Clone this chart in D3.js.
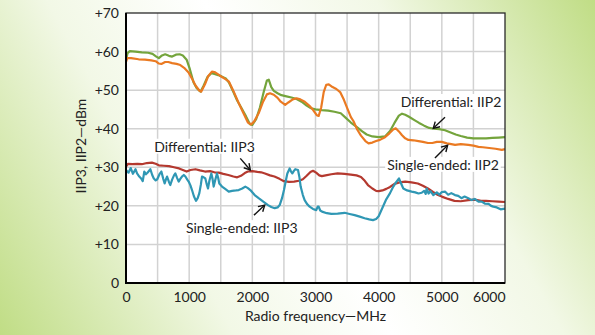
<!DOCTYPE html>
<html>
<head>
<meta charset="utf-8">
<script src="https://cdn.jsdelivr.net/npm/d3@7"></script>
<style>
  html, body { margin: 0; padding: 0; }
  body { width: 595px; height: 335px; overflow: hidden; }
  text { font-family: Lato, "Noto Sans", sans-serif; fill: #222; }
</style>
</head>
<body>
<div id="chart"></div>
<script>
// values: [MHz, dBm]
const diffIIP2 = [[0,57.8],[25,59.6],[60,60.1],[150,60.0],[250,59.8],[350,59.7],[420,59.4],[480,58.7],[520,58.3],[570,59.0],[620,59.3],[680,58.9],[730,58.7],[790,59.2],[850,59.3],[900,59.0],[960,57.9],[1010,55.5],[1070,52.0],[1120,50.5],[1180,49.6],[1230,51.2],[1290,53.4],[1350,54.4],[1400,54.2],[1460,53.9],[1520,53.5],[1580,53.0],[1630,52.0],[1700,49.5],[1760,47.3],[1830,45.3],[1900,43.2],[1960,41.2],[2000,41.0],[2060,42.5],[2120,45.5],[2180,49.5],[2230,52.5],[2260,52.7],[2300,50.8],[2340,49.8],[2400,49.2],[2460,48.7],[2540,48.4],[2620,48.1],[2700,47.7],[2780,47.0],[2860,46.0],[2930,45.3],[3000,45.0],[3100,44.8],[3200,44.7],[3300,44.4],[3400,44.0],[3480,42.8],[3560,41.6],[3650,40.5],[3740,39.3],[3810,38.5],[3900,38.0],[4000,37.8],[4100,38.0],[4180,39.4],[4250,41.5],[4320,43.4],[4370,43.9],[4420,43.6],[4480,43.1],[4560,42.3],[4640,41.5],[4720,40.8],[4800,40.2],[4880,40.0],[4960,39.9],[5050,39.6],[5130,39.1],[5220,38.5],[5300,38.1],[5400,37.7],[5500,37.5],[5600,37.5],[5700,37.5],[5800,37.6],[5900,37.7],[6000,37.8]];

const seIIP2 = [[0,57.3],[20,58.3],[80,58.3],[200,58.0],[300,57.9],[400,57.7],[470,57.5],[520,56.9],[560,56.8],[620,57.3],[670,57.3],[730,57.0],[800,56.8],[860,56.5],[920,55.8],[990,54.6],[1050,52.8],[1100,51.2],[1160,49.9],[1190,49.6],[1250,51.5],[1300,53.6],[1360,54.8],[1400,54.7],[1460,54.1],[1520,53.4],[1580,52.8],[1630,52.2],[1700,49.8],[1780,46.8],[1860,44.0],[1930,41.6],[1980,41.1],[2030,41.9],[2100,44.0],[2170,47.0],[2230,48.9],[2280,49.2],[2340,48.8],[2400,48.0],[2450,47.0],[2520,46.2],[2570,46.8],[2640,47.6],[2700,47.9],[2760,47.6],[2830,47.0],[2900,46.0],[2960,44.9],[3020,43.5],[3050,43.3],[3090,45.5],[3130,49.5],[3170,51.4],[3210,51.5],[3270,50.8],[3330,50.3],[3390,49.5],[3450,47.5],[3510,45.0],[3560,43.0],[3600,42.0],[3660,39.8],[3720,38.2],[3790,36.8],[3840,36.2],[3900,36.4],[3960,36.8],[4020,37.1],[4100,37.8],[4170,38.8],[4230,39.8],[4270,40.1],[4320,39.3],[4370,38.3],[4420,37.5],[4470,37.1],[4550,37.0],[4630,36.8],[4700,36.6],[4780,36.3],[4850,36.3],[4920,36.6],[5000,36.6],[5080,36.2],[5150,36.0],[5210,35.8],[5300,36.0],[5420,35.8],[5500,35.6],[5580,35.3],[5650,35.2],[5750,35.0],[5850,34.8],[5950,34.5],[6000,34.7]];

const diffIIP3 = [[0,30.2],[30,30.9],[100,30.8],[180,30.9],[250,30.8],[330,31.1],[410,31.2],[470,30.9],[520,30.5],[600,30.4],[680,30.3],[760,30.0],[840,29.7],[900,29.3],[960,28.9],[1020,29.3],[1100,29.5],[1170,29.2],[1250,28.9],[1330,29.0],[1400,28.7],[1470,28.6],[1540,28.3],[1620,28.0],[1700,27.6],[1760,27.4],[1820,27.8],[1880,28.5],[1930,28.9],[2000,29.0],[2080,28.8],[2140,28.7],[2200,28.4],[2280,27.9],[2350,27.6],[2430,27.0],[2500,26.4],[2580,26.2],[2660,26.3],[2740,26.5],[2800,26.9],[2860,27.8],[2920,28.8],[2960,29.1],[3010,28.6],[3060,27.9],[3100,27.7],[3160,27.9],[3250,28.2],[3350,28.4],[3460,28.3],[3560,28.1],[3650,27.9],[3720,27.5],[3780,26.5],[3830,25.4],[3900,24.5],[3960,23.9],[4000,23.8],[4060,24.0],[4120,24.4],[4180,24.9],[4250,25.7],[4330,26.1],[4420,26.3],[4520,26.1],[4620,25.8],[4700,25.2],[4780,24.5],[4860,23.6],[4940,22.8],[5000,22.4],[5100,21.8],[5200,21.3],[5300,21.2],[5420,21.5],[5520,21.6],[5620,21.3],[5700,21.3],[5800,21.2],[5900,21.1],[6000,21.0]];

const seIIP3 = [[0,29.3],[40,28.6],[75,29.8],[110,28.3],[150,29.5],[175,28.4],[210,27.6],[240,27.1],[265,26.4],[290,28.9],[315,28.2],[340,28.6],[385,29.5],[415,28.0],[440,27.1],[470,26.6],[495,26.9],[530,28.2],[560,28.9],[590,27.0],[612,25.8],[635,27.0],[650,27.6],[680,26.2],[702,25.4],[730,26.8],[760,27.9],[781,28.4],[810,27.2],[834,26.3],[860,27.0],[886,27.6],[915,28.0],[940,27.6],[970,26.8],[992,26.3],[1020,25.3],[1045,24.1],[1075,22.5],[1108,21.3],[1135,22.0],[1161,23.3],[1185,25.5],[1203,27.6],[1230,27.4],[1256,27.1],[1280,25.5],[1298,24.5],[1320,26.5],[1351,28.4],[1370,27.0],[1388,25.0],[1410,26.5],[1440,28.4],[1460,27.2],[1477,25.8],[1520,25.0],[1570,24.4],[1626,23.7],[1680,23.9],[1740,24.0],[1784,24.1],[1840,24.5],[1889,25.0],[1930,24.6],[1968,24.1],[2037,22.8],[2100,22.0],[2142,21.5],[2200,20.8],[2248,20.2],[2300,19.7],[2354,19.4],[2400,19.6],[2433,20.2],[2470,22.0],[2501,24.1],[2530,26.5],[2554,28.4],[2591,29.7],[2615,28.8],[2633,28.4],[2655,29.0],[2680,29.5],[2723,29.3],[2745,27.5],[2765,25.0],[2800,22.8],[2828,21.5],[2870,20.4],[2907,19.8],[2960,19.2],[3012,18.9],[3035,19.8],[3050,19.8],[3075,18.8],[3103,18.5],[3180,18.1],[3250,17.9],[3350,18.0],[3462,18.2],[3540,17.9],[3620,17.6],[3700,17.2],[3778,16.8],[3850,16.5],[3910,16.3],[3960,16.6],[4000,17.3],[4060,19.5],[4120,21.7],[4180,23.3],[4232,25.0],[4280,26.2],[4322,27.1],[4350,26.0],[4390,24.5],[4450,24.0],[4522,23.7],[4580,23.5],[4630,23.2],[4681,23.4],[4720,23.9],[4745,23.1],[4760,24.5],[4790,23.2],[4820,23.8],[4865,22.8],[4920,23.5],[4960,22.9],[5000,23.6],[5050,23.7],[5100,22.9],[5150,23.3],[5208,22.8],[5260,22.6],[5310,22.0],[5360,22.4],[5419,22.0],[5470,21.5],[5520,21.8],[5580,21.1],[5630,21.1],[5680,20.6],[5740,20.5],[5780,20.0],[5815,19.8],[5870,19.6],[5930,19.1],[6000,19.3]];

const xTicks = [0, 1000, 2000, 3000, 4000, 5000, 6000];
const yTicks = [0, 10, 20, 30, 40, 50, 60, 70];
const xGrid = [500, 1000, 1500, 2000, 2500, 3000, 3500, 4000, 4500, 5000, 5500];
const yGrid = [10, 20, 30, 40, 50, 60];

// label text, label centre, arrow tail, arrow head (all in MHz / dBm)
const notes = [
  {text: "Differential: IIP2", at: [5145, 46.9], from: [5050, 43.0], to: [4865, 40.1]},
  {text: "Single-ended: IIP2", at: [5018, 30.6], from: [4891, 32.4], to: [5092, 35.7]},
  {text: "Differential: IIP3", at: [1243, 35.3], from: [1809, 32.3], to: [1968, 29.3]},
  {text: "Single-ended: IIP3", at: [1832, 14.2], from: [2026, 17.6], to: [2196, 20.2]}
];

const W = 595, H = 335;
const margin = {top: 13, right: 90, bottom: 52, left: 126};

const x = d3.scaleLinear().domain([0, 6000]).range([margin.left, W - margin.right]);
const y = d3.scaleLinear().domain([0, 70]).range([H - margin.bottom, margin.top]);

const svg = d3.select("#chart").append("svg")
  .attr("width", W).attr("height", H);

const defs = svg.append("defs");
const grad = defs.append("linearGradient")
  .attr("id", "bg").attr("gradientUnits", "userSpaceOnUse")
  .attr("x1", 0).attr("y1", H).attr("x2", W).attr("y2", 0);
grad.append("stop").attr("offset", 0).attr("stop-color", "#c0dd85");
grad.append("stop").attr("offset", 0.3).attr("stop-color", "#f2f8e6");
grad.append("stop").attr("offset", 0.5).attr("stop-color", "#ffffff");
grad.append("stop").attr("offset", 0.72).attr("stop-color", "#f2f8e6");
grad.append("stop").attr("offset", 1).attr("stop-color", "#c0dd85");

defs.append("marker")
  .attr("id", "arrow").attr("markerUnits", "userSpaceOnUse")
  .attr("viewBox", "-8 -5 10 10").attr("refX", 0).attr("refY", 0)
  .attr("markerWidth", 10).attr("markerHeight", 10).attr("orient", "auto")
  .append("path").attr("d", "M-6,-3.5L0,0L-6,3.5")
  .attr("fill", "none").attr("stroke", "#111").attr("stroke-width", 1.4);

svg.append("rect").attr("width", W).attr("height", H).attr("fill", "url(#bg)");

// plot background
svg.append("rect")
  .attr("x", x(0)).attr("y", y(70))
  .attr("width", x(6000) - x(0)).attr("height", y(0) - y(70))
  .attr("fill", "#fff");

// grid
svg.append("g").selectAll("line").data(xGrid).join("line")
  .attr("x1", d => x(d)).attr("x2", d => x(d))
  .attr("y1", y(70)).attr("y2", y(0))
  .attr("stroke", "#d2d2d2").attr("stroke-width", 1.5);
svg.append("g").selectAll("line").data(yGrid).join("line")
  .attr("x1", x(0)).attr("x2", x(6000))
  .attr("y1", d => y(d)).attr("y2", d => y(d))
  .attr("stroke", "#d2d2d2").attr("stroke-width", 1.5);

// curves
const line = d3.line().x(d => x(d[0])).y(d => y(d[1]));
const series = [
  {data: diffIIP2, color: "#74a43c"},
  {data: seIIP2, color: "#ea7a22"},
  {data: diffIIP3, color: "#b4392f"},
  {data: seIIP3, color: "#2f97b4"}
];
svg.append("g").selectAll("path").data(series).join("path")
  .attr("d", d => line(d.data))
  .attr("fill", "none")
  .attr("stroke", d => d.color)
  .attr("stroke-width", 2.2)
  .attr("stroke-linejoin", "round");

// frame
svg.append("rect")
  .attr("x", x(0)).attr("y", y(70))
  .attr("width", x(6000) - x(0)).attr("height", y(0) - y(70))
  .attr("fill", "none").attr("stroke", "#2a2a2a").attr("stroke-width", 1.3);
svg.append("path")
  .attr("d", `M${x(0)},${y(70)}V${y(0)}H${x(6000)}`)
  .attr("fill", "none").attr("stroke", "#000").attr("stroke-width", 2);

// axes
const gx = svg.append("g")
  .attr("transform", `translate(0,${y(0)})`)
  .call(d3.axisBottom(x).tickValues(xTicks).tickSize(0).tickPadding(9).tickFormat(d3.format("d")));
gx.select(".domain").remove();
gx.selectAll("text").attr("font-size", 14).style("font-family", "Lato, 'Noto Sans', sans-serif").attr("fill", "#222");
gx.selectAll(".tick:last-of-type text").attr("text-anchor", "end");

const gy = svg.append("g")
  .attr("transform", `translate(${x(0)},0)`)
  .call(d3.axisLeft(y).tickValues(yTicks).tickSize(0).tickPadding(7)
    .tickFormat(d => d === 0 ? "0" : "+" + d));
gy.select(".domain").remove();
gy.selectAll("text").attr("font-size", 14).style("font-family", "Lato, 'Noto Sans', sans-serif").attr("fill", "#222");

svg.append("text")
  .attr("x", (x(0) + x(6000)) / 2).attr("y", 321)
  .attr("text-anchor", "middle").attr("font-size", 14)
  .text("Radio frequency—MHz");

svg.append("text")
  .attr("transform", `translate(86,${(y(0) + y(70)) / 2 - 2}) rotate(-90)`)
  .attr("text-anchor", "middle").attr("font-size", 14)
  .text("IIP3, IIP2—dBm");

// annotations
const ann = svg.append("g");
notes.forEach(n => {
  const g = ann.append("g");
  const bg = g.append("rect").attr("fill", "#fff");
  const t = g.append("text")
    .attr("x", x(n.at[0])).attr("y", y(n.at[1]))
    .attr("text-anchor", "middle").attr("dy", "0.35em")
    .attr("font-size", 14).text(n.text);
  const b = t.node().getBBox();
  bg.attr("x", b.x - 2).attr("y", b.y + 1).attr("width", b.width + 4).attr("height", b.height - 2);
  ann.append("line")
    .attr("x1", x(n.from[0])).attr("y1", y(n.from[1]))
    .attr("x2", x(n.to[0])).attr("y2", y(n.to[1]))
    .attr("stroke", "#111").attr("stroke-width", 1.4)
    .attr("marker-end", "url(#arrow)");
});
</script>
</body>
</html>
